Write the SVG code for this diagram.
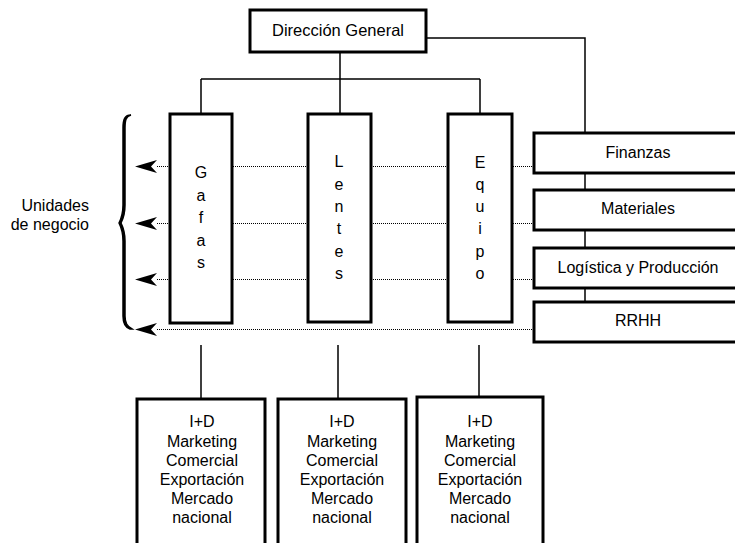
<svg xmlns="http://www.w3.org/2000/svg" width="735" height="543" viewBox="0 0 735 543">
  <style>
    text { font-family: "Liberation Sans", Arial, sans-serif; fill: #000; }
    .box { fill: #fff; stroke: #000; stroke-width: 3; }
    .link { fill: none; stroke: #000; stroke-width: 1.5; }
    .dot { fill: none; stroke: #000; stroke-width: 1; stroke-dasharray: 1 1; }
    .lbl { font-size: 16px; text-anchor: middle; }
    .head { font-size: 16.5px; text-anchor: middle; }
    .vert { font-size: 16px; text-anchor: middle; }
    .unit { font-size: 16px; text-anchor: middle; }
    .side { font-size: 16px; text-anchor: end; }
  </style>

  <rect width="735" height="543" fill="#fff"/>

  <g id="connectors">
    <!-- top tree -->
    <path class="link" d="M340,52 V79 M201,79 H480 M201,79 V114 M340,79 V114 M480,79 V114"/>
    <path class="link" d="M426,38 H585 V133"/>
    <!-- spine between support functions -->
    <path class="link" d="M585,173 V190 M585,230 V248 M585,288 V302"/>
    <!-- business units to their departments -->
    <path class="link" d="M201,345 V399 M338,345 V399 M479,345 V397"/>
    <!-- dotted links from support functions to the bracket -->
    <path class="dot" d="M534,166.5 H512 M448,166.5 H371 M308,166.5 H232 M170,166.5 H157"/>
    <path class="dot" d="M534,223.5 H512 M448,223.5 H371 M308,223.5 H232 M170,223.5 H157"/>
    <path class="dot" d="M534,279.5 H512 M448,279.5 H371 M308,279.5 H232 M170,279.5 H157"/>
    <path class="dot" d="M534,329.5 H157"/>
    <!-- arrowheads -->
    <g fill="#000">
      <path d="M135,166.5 L157,160 L151,166.5 L157,173 Z"/>
      <path d="M135,223.5 L157,217 L151,223.5 L157,230 Z"/>
      <path d="M135,279.5 L157,273 L151,279.5 L157,286 Z"/>
      <path d="M135,329.5 L157,323 L151,329.5 L157,336 Z"/>
    </g>
  </g>

  <g id="brace">
    <path d="M131,115 C126,116 125,120 125,128 L125,205 C125,215 123,219 121,223 C123,227 125,231 125,241 L125,316 C125,323 127,326 132,329 L130,329 C124,327 123,322 123,316 L123,241 C123,232 121,227 119,223 C121,219 123,214 123,205 L123,128 C123,119 125,115 131,115 Z" fill="#000" stroke="#000" stroke-width="1.5"/>
  </g>

  <g id="unidades-label">
    <text class="side" x="89" y="211">Unidades</text>
    <text class="side" x="89" y="230">de negocio</text>
  </g>

  <g id="direccion-general">
    <rect class="box" x="250" y="10" width="176" height="42"/>
    <text class="head" x="338" y="36">Dirección General</text>
  </g>

  <g id="gafas">
    <rect class="box" x="170" y="114" width="62" height="209"/>
    <text class="vert" x="201" y="178">G</text>
    <text class="vert" x="201" y="201">a</text>
    <text class="vert" x="201" y="223">f</text>
    <text class="vert" x="201" y="246">a</text>
    <text class="vert" x="201" y="268">s</text>
  </g>

  <g id="lentes">
    <rect class="box" x="308" y="114" width="63" height="208"/>
    <text class="vert" x="339" y="167">L</text>
    <text class="vert" x="339" y="190">e</text>
    <text class="vert" x="339" y="212">n</text>
    <text class="vert" x="339" y="234">t</text>
    <text class="vert" x="339" y="257">e</text>
    <text class="vert" x="339" y="279">s</text>
  </g>

  <g id="equipo">
    <rect class="box" x="448" y="114" width="64" height="208"/>
    <text class="vert" x="480" y="168">E</text>
    <text class="vert" x="480" y="190">q</text>
    <text class="vert" x="480" y="212">u</text>
    <text class="vert" x="480" y="234">i</text>
    <text class="vert" x="480" y="257">p</text>
    <text class="vert" x="480" y="279">o</text>
  </g>

  <g id="finanzas">
    <rect class="box" x="534" y="133" width="210" height="40"/>
    <text class="lbl" x="638" y="158">Finanzas</text>
  </g>

  <g id="materiales">
    <rect class="box" x="534" y="190" width="210" height="40"/>
    <text class="lbl" x="638" y="214">Materiales</text>
  </g>

  <g id="logistica">
    <rect class="box" x="534" y="248" width="210" height="40"/>
    <text class="lbl" x="638" y="273">Logística y Producción</text>
  </g>

  <g id="rrhh">
    <rect class="box" x="534" y="302" width="210" height="40"/>
    <text class="lbl" x="638" y="326">RRHH</text>
  </g>

  <g id="departamentos-gafas">
    <rect class="box" x="137" y="399" width="128" height="160"/>
    <text class="unit" x="202" y="427">I+D</text>
    <text class="unit" x="202" y="447">Marketing</text>
    <text class="unit" x="202" y="466">Comercial</text>
    <text class="unit" x="202" y="485">Exportación</text>
    <text class="unit" x="202" y="504">Mercado</text>
    <text class="unit" x="202" y="523">nacional</text>
  </g>

  <g id="departamentos-lentes">
    <rect class="box" x="278" y="399" width="128" height="160"/>
    <text class="unit" x="342" y="427">I+D</text>
    <text class="unit" x="342" y="447">Marketing</text>
    <text class="unit" x="342" y="466">Comercial</text>
    <text class="unit" x="342" y="485">Exportación</text>
    <text class="unit" x="342" y="504">Mercado</text>
    <text class="unit" x="342" y="523">nacional</text>
  </g>

  <g id="departamentos-equipo">
    <rect class="box" x="417" y="397" width="126" height="160"/>
    <text class="unit" x="480" y="427">I+D</text>
    <text class="unit" x="480" y="447">Marketing</text>
    <text class="unit" x="480" y="466">Comercial</text>
    <text class="unit" x="480" y="485">Exportación</text>
    <text class="unit" x="480" y="504">Mercado</text>
    <text class="unit" x="480" y="523">nacional</text>
  </g>
</svg>
